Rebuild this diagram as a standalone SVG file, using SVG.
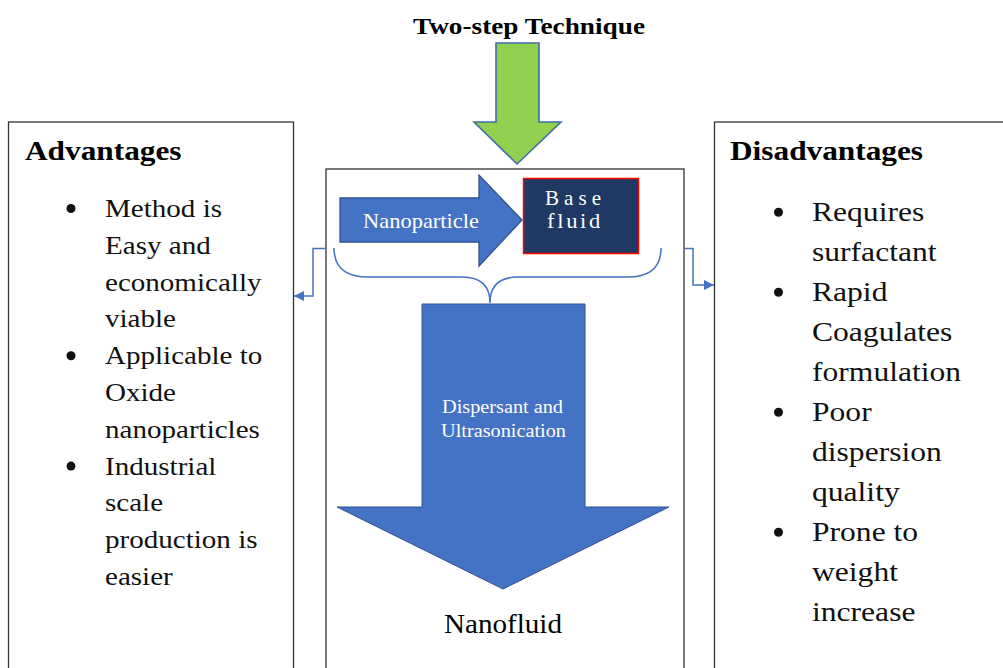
<svg xmlns="http://www.w3.org/2000/svg" width="1003" height="668" viewBox="0 0 1003 668">
<defs>
<style>
.box{fill:#ffffff;stroke:#333333;stroke-width:1.3}
.serif{font-family:"Liberation Serif","Times New Roman",serif}
.head{font-weight:bold;font-size:27px;fill:#000}
.item{font-size:25.5px;fill:#111}
.item2{font-size:27px;fill:#111}
.wt{fill:#ffffff}
.conn{fill:none;stroke:#4472C4;stroke-width:1.5}
</style>
<marker id="ah" viewBox="0 0 10 10" refX="10" refY="5" markerWidth="10" markerHeight="10" markerUnits="userSpaceOnUse" orient="auto">
<path d="M0,0 L10,5 L0,10 Z" fill="#4472C4"/>
</marker>
</defs>
<rect width="1003" height="668" fill="#ffffff"/>

<g id="title">
<text class="serif" font-weight="bold" font-size="24" x="413" y="34" textLength="232" lengthAdjust="spacingAndGlyphs">Two-step Technique</text>
</g>

<g id="advantages">
<rect class="box" x="8.5" y="122" width="285" height="560"/>
<text class="serif head" transform="translate(25 160) scale(1.16 1)">Advantages</text>
<g fill="#111">
<circle cx="71" cy="208.5" r="4.5"/>
<circle cx="71" cy="355.7" r="4.5"/>
<circle cx="71" cy="466.1" r="4.5"/>
</g>
<text class="serif item" transform="translate(105 217) scale(1.14 1)">
<tspan x="0" y="0">Method is</tspan>
<tspan x="0" y="36.8">Easy and</tspan>
<tspan x="0" y="73.6">economically</tspan>
<tspan x="0" y="110.4">viable</tspan>
<tspan x="0" y="147.2">Applicable to</tspan>
<tspan x="0" y="184">Oxide</tspan>
<tspan x="0" y="220.8">nanoparticles</tspan>
<tspan x="0" y="257.6">Industrial</tspan>
<tspan x="0" y="294.4">scale</tspan>
<tspan x="0" y="331.2">production is</tspan>
<tspan x="0" y="368">easier</tspan>
</text>
</g>

<g id="disadvantages">
<rect class="box" x="714.5" y="122" width="300" height="560"/>
<text class="serif head" transform="translate(730 160) scale(1.16 1)">Disadvantages</text>
<g fill="#111">
<circle cx="778.5" cy="212.2" r="4.5"/>
<circle cx="778.5" cy="292.2" r="4.5"/>
<circle cx="778.5" cy="412.2" r="4.5"/>
<circle cx="778.5" cy="532.2" r="4.5"/>
</g>
<text class="serif item2" transform="translate(812 220.7) scale(1.17 1)">
<tspan x="0" y="0">Requires</tspan>
<tspan x="0" y="40">surfactant</tspan>
<tspan x="0" y="80">Rapid</tspan>
<tspan x="0" y="120">Coagulates</tspan>
<tspan x="0" y="160">formulation</tspan>
<tspan x="0" y="200">Poor</tspan>
<tspan x="0" y="240">dispersion</tspan>
<tspan x="0" y="280">quality</tspan>
<tspan x="0" y="320">Prone to</tspan>
<tspan x="0" y="360">weight</tspan>
<tspan x="0" y="400">increase</tspan>
</text>
</g>

<g id="process">
<rect class="box" x="326" y="169" width="358" height="520"/>
</g>

<g id="green-arrow">
<polygon points="496,43 539,43 539,122 561,122 517,164 474,122 496,122" fill="#92D050" stroke="#3F6DA8" stroke-width="1.6" stroke-linejoin="miter"/>
</g>

<g id="nanoparticle">
<polygon points="340,198 479,198 479,175 522,220 479,266 479,242 340,242" fill="#4472C4" stroke="#2F528F" stroke-width="1.3"/>
<text class="serif wt" font-size="21" x="363" y="228" textLength="116" lengthAdjust="spacingAndGlyphs">Nanoparticle</text>
</g>

<g id="base-fluid">
<rect x="523.5" y="178.5" width="115" height="75" fill="#203864" stroke="#FF0000" stroke-width="1.5"/>
<text class="serif wt" font-size="21" letter-spacing="5" x="545" y="205" textLength="61" lengthAdjust="spacingAndGlyphs">Base</text>
<text class="serif wt" font-size="21" letter-spacing="2.5" x="547" y="228" textLength="56" lengthAdjust="spacingAndGlyphs">fluid</text>
</g>

<g id="dispersion-arrow">
<polygon points="422,304 585,304 585,507 669,507 503,589 337,507 422,507" fill="#4472C4" stroke="#2F528F" stroke-width="1"/>
<text class="serif wt" font-size="18.5" x="442" y="412.5" textLength="121" lengthAdjust="spacingAndGlyphs">Dispersant and</text>
<text class="serif wt" font-size="18.5" x="441" y="436.5" textLength="125" lengthAdjust="spacingAndGlyphs">Ultrasonication</text>
</g>

<g id="nanofluid">
<text class="serif" font-size="27" fill="#000" x="444" y="633" textLength="118" lengthAdjust="spacingAndGlyphs">Nanofluid</text>
</g>

<g id="connectors">
<path class="conn" stroke-width="1.3" d="M334,248 Q334,277 368,277 L462,277 Q490,277 490,303 Q490,277 518,277 L628,277 Q661,277 661,248"/>
<path class="conn" d="M325,248.5 L313,248.5 L313,296 L294,296" marker-end="url(#ah)"/>
<path class="conn" d="M685,248.5 L693,248.5 L693,285 L714,285" marker-end="url(#ah)"/>
</g>
</svg>
